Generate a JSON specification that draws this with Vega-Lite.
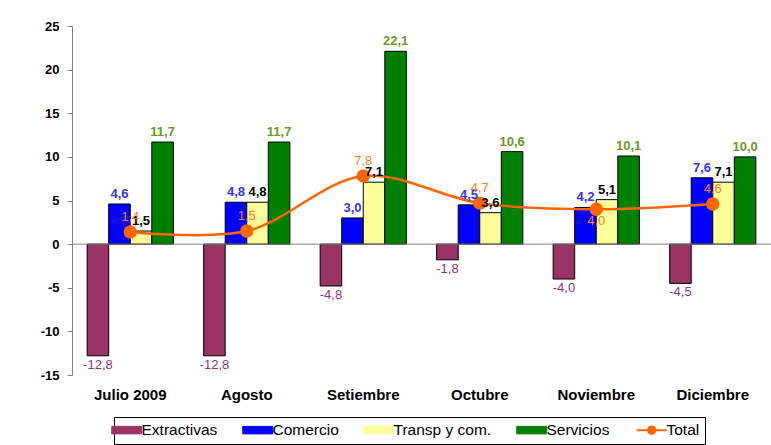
{
  "$schema": "https://vega.github.io/schema/vega-lite/v6.json",
  "width": 699,
  "height": 349,
  "autosize": {"type": "none"},
  "padding": {"left": 72, "top": 26, "right": 0, "bottom": 70},
  "background": "white",
  "resolve": {"axis": {"x": "independent"}},
  "config": {
    "view": {"stroke": null},
    "font": "Liberation Sans",
    "locale": {"number": {"decimal": ",", "thousands": ".", "grouping": [3], "currency": ["", ""], "minus": "-"}},
    "axisY": {"domainColor": "#808080", "tickColor": "#808080", "tickSize": 5, "labelFontWeight": "bold", "labelFontSize": 13, "labelColor": "#000000", "labelPadding": 8, "grid": false, "values": [-15, -10, -5, 0, 5, 10, 15, 20, 25]},
    "legend": {
      "orient": "none", "legendX": 42, "legendY": 391, "direction": "horizontal", "columns": 5,
      "labelFontSize": 15.5, "labelColor": "#000000", "labelFont": "Liberation Sans", "labelOffset": 7,
      "columnPadding": 22, "padding": 5, "strokeColor": "#000000", "fillColor": "#FFFFFF",
      "symbolSize": 900, "symbolType": "M-1,-0.25H1V0.25H-1Z", "symbolStrokeColor": "#000000", "symbolStrokeWidth": 1, "symbolOpacity": 1
    }
  },
  "datasets": {
    "barras": [
      {"mes": "Julio 2009", "serie": "Extractivas", "valor": -12.8},
      {"mes": "Julio 2009", "serie": "Comercio", "valor": 4.6},
      {"mes": "Julio 2009", "serie": "Transp y com.", "valor": 1.5},
      {"mes": "Julio 2009", "serie": "Servicios", "valor": 11.7},
      {"mes": "Agosto", "serie": "Extractivas", "valor": -12.8},
      {"mes": "Agosto", "serie": "Comercio", "valor": 4.8},
      {"mes": "Agosto", "serie": "Transp y com.", "valor": 4.8},
      {"mes": "Agosto", "serie": "Servicios", "valor": 11.7},
      {"mes": "Setiembre", "serie": "Extractivas", "valor": -4.8},
      {"mes": "Setiembre", "serie": "Comercio", "valor": 3.0},
      {"mes": "Setiembre", "serie": "Transp y com.", "valor": 7.1},
      {"mes": "Setiembre", "serie": "Servicios", "valor": 22.1},
      {"mes": "Octubre", "serie": "Extractivas", "valor": -1.8},
      {"mes": "Octubre", "serie": "Comercio", "valor": 4.5},
      {"mes": "Octubre", "serie": "Transp y com.", "valor": 3.6},
      {"mes": "Octubre", "serie": "Servicios", "valor": 10.6},
      {"mes": "Noviembre", "serie": "Extractivas", "valor": -4.0},
      {"mes": "Noviembre", "serie": "Comercio", "valor": 4.2},
      {"mes": "Noviembre", "serie": "Transp y com.", "valor": 5.1},
      {"mes": "Noviembre", "serie": "Servicios", "valor": 10.1},
      {"mes": "Diciembre", "serie": "Extractivas", "valor": -4.5},
      {"mes": "Diciembre", "serie": "Comercio", "valor": 7.6},
      {"mes": "Diciembre", "serie": "Transp y com.", "valor": 7.1},
      {"mes": "Diciembre", "serie": "Servicios", "valor": 10.0}
    ],
    "total": [
      {"mes": "Julio 2009", "serie": "Total", "valor": 1.4},
      {"mes": "Agosto", "serie": "Total", "valor": 1.5},
      {"mes": "Setiembre", "serie": "Total", "valor": 7.8},
      {"mes": "Octubre", "serie": "Total", "valor": 4.7},
      {"mes": "Noviembre", "serie": "Total", "valor": 4.0},
      {"mes": "Diciembre", "serie": "Total", "valor": 4.6}
    ]
  },
  "layer": [
    {
      "data": {"name": "barras"},
      "mark": {"type": "bar", "stroke": "#000000", "strokeWidth": 1},
      "encoding": {
        "x": {"field": "mes", "type": "nominal", "sort": ["Julio 2009", "Agosto", "Setiembre", "Octubre", "Noviembre", "Diciembre"], "scale": {"paddingInner": 0.26, "paddingOuter": 0.13}, "title": null,
              "axis": {"domain": false, "ticks": false, "labelFontWeight": "bold", "labelFontSize": 15, "labelColor": "#000000", "labelPadding": 12, "labelAngle": 0, "grid": false}},
        "xOffset": {"field": "serie", "type": "nominal", "sort": ["Extractivas", "Comercio", "Transp y com.", "Servicios"], "scale": {"paddingInner": 0, "paddingOuter": 0}},
        "y": {"field": "valor", "type": "quantitative", "scale": {"domain": [-15, 25], "nice": false, "zero": false}, "title": null},
        "color": {
          "field": "serie", "type": "nominal",
          "scale": {"domain": ["Extractivas", "Comercio", "Transp y com.", "Servicios", "Total"], "range": ["#993366", "#0000FF", "#FFFF99", "#008000", "#FF6600"]},
          "legend": {
            "title": null,
            "encode": {
              "symbols": {
                "update": {
                  "shape": {"signal": "datum.value === 'Total' ? 'M-1,0H1M0.25,0A0.25,0.25 0 1 1 -0.25,0A0.25,0.25 0 1 1 0.25,0Z' : 'M-1,-0.25H1V0.25H-1Z'"},
                  "fill": {"scale": "color", "field": "value"},
                  "stroke": {"signal": "datum.value === 'Total' ? '#FF6600' : '#000000'"},
                  "strokeWidth": {"signal": "datum.value === 'Total' ? 2 : 1"},
                  "size": {"value": 900},
                  "opacity": {"value": 1}
                }
              }
            }
          }
        }
      }
    },
    {
      "data": {"values": [{"v": 0}]},
      "mark": {"type": "rule", "color": "#808080", "strokeWidth": 1},
      "encoding": {"y": {"field": "v", "type": "quantitative", "scale": {"domain": [-15, 25], "nice": false, "zero": false}, "title": null}}
    },
    {
      "data": {"name": "total"},
      "mark": {"type": "line", "interpolate": "catmull-rom", "strokeWidth": 2.5},
      "encoding": {
        "x": {"field": "mes", "type": "nominal", "sort": ["Julio 2009", "Agosto", "Setiembre", "Octubre", "Noviembre", "Diciembre"], "title": null,
              "axis": {"orient": "bottom", "offset": -131, "bandPosition": 0, "labels": false, "domain": false, "ticks": true, "tickSize": 4, "tickColor": "#808080", "grid": false}},
        "y": {"field": "valor", "type": "quantitative", "scale": {"domain": [-15, 25], "nice": false, "zero": false}, "title": null},
        "color": {"field": "serie", "type": "nominal", "legend": {
            "title": null,
            "encode": {
              "symbols": {
                "update": {
                  "shape": {"signal": "datum.value === 'Total' ? 'M-1,0H1M0.25,0A0.25,0.25 0 1 1 -0.25,0A0.25,0.25 0 1 1 0.25,0Z' : 'M-1,-0.25H1V0.25H-1Z'"},
                  "fill": {"scale": "color", "field": "value"},
                  "stroke": {"signal": "datum.value === 'Total' ? '#FF6600' : '#000000'"},
                  "strokeWidth": {"signal": "datum.value === 'Total' ? 2 : 1"},
                  "size": {"value": 900},
                  "opacity": {"value": 1}
                }
              }
            }
          }}
      }
    },
    {
      "data": {"name": "total"},
      "mark": {"type": "point", "filled": true, "size": 180, "opacity": 1},
      "encoding": {
        "x": {"field": "mes", "type": "nominal", "sort": ["Julio 2009", "Agosto", "Setiembre", "Octubre", "Noviembre", "Diciembre"], "title": null, "axis": null},
        "y": {"field": "valor", "type": "quantitative", "scale": {"domain": [-15, 25], "nice": false, "zero": false}, "title": null},
        "color": {"field": "serie", "type": "nominal", "legend": {
            "title": null,
            "encode": {
              "symbols": {
                "update": {
                  "shape": {"signal": "datum.value === 'Total' ? 'M-1,0H1M0.25,0A0.25,0.25 0 1 1 -0.25,0A0.25,0.25 0 1 1 0.25,0Z' : 'M-1,-0.25H1V0.25H-1Z'"},
                  "fill": {"scale": "color", "field": "value"},
                  "stroke": {"signal": "datum.value === 'Total' ? '#FF6600' : '#000000'"},
                  "strokeWidth": {"signal": "datum.value === 'Total' ? 2 : 1"},
                  "size": {"value": 900},
                  "opacity": {"value": 1}
                }
              }
            }
          }}
      }
    },
    {
      "data": {"name": "barras"},
      "transform": [{"filter": "datum.valor >= 0"}],
      "mark": {"type": "text", "baseline": "bottom", "dy": -3, "fontWeight": "bold", "fontSize": 13},
      "encoding": {
        "x": {"field": "mes", "type": "nominal", "sort": ["Julio 2009", "Agosto", "Setiembre", "Octubre", "Noviembre", "Diciembre"], "title": null, "axis": null},
        "xOffset": {"field": "serie", "type": "nominal", "sort": ["Extractivas", "Comercio", "Transp y com.", "Servicios"]},
        "y": {"field": "valor", "type": "quantitative", "scale": {"domain": [-15, 25], "nice": false, "zero": false}, "title": null},
        "text": {"field": "valor", "type": "quantitative", "format": ".1f"},
        "color": {"condition": [{"test": "datum.serie === 'Comercio'", "value": "#3333FF"}, {"test": "datum.serie === 'Servicios'", "value": "#6B9A1F"}], "value": "#000000"}
      }
    },
    {
      "data": {"name": "barras"},
      "transform": [{"filter": "datum.valor < 0"}],
      "mark": {"type": "text", "baseline": "top", "dy": 3, "fontSize": 13, "color": "#993377"},
      "encoding": {
        "x": {"field": "mes", "type": "nominal", "sort": ["Julio 2009", "Agosto", "Setiembre", "Octubre", "Noviembre", "Diciembre"], "title": null, "axis": null},
        "xOffset": {"field": "serie", "type": "nominal", "sort": ["Extractivas", "Comercio", "Transp y com.", "Servicios"]},
        "y": {"field": "valor", "type": "quantitative", "scale": {"domain": [-15, 25], "nice": false, "zero": false}, "title": null},
        "text": {"field": "valor", "type": "quantitative", "format": ".1f"}
      }
    },
    {
      "data": {"name": "total"},
      "transform": [{"filter": "datum.mes !== 'Noviembre'"}],
      "mark": {"type": "text", "baseline": "bottom", "dy": -8, "fontSize": 13, "color": "#FF7A22"},
      "encoding": {
        "x": {"field": "mes", "type": "nominal", "sort": ["Julio 2009", "Agosto", "Setiembre", "Octubre", "Noviembre", "Diciembre"], "title": null, "axis": null},
        "y": {"field": "valor", "type": "quantitative", "scale": {"domain": [-15, 25], "nice": false, "zero": false}, "title": null},
        "text": {"field": "valor", "type": "quantitative", "format": ".1f"}
      }
    },
    {
      "data": {"name": "total"},
      "transform": [{"filter": "datum.mes === 'Noviembre'"}],
      "mark": {"type": "text", "baseline": "top", "dy": 6, "fontSize": 13, "color": "#FF7A22"},
      "encoding": {
        "x": {"field": "mes", "type": "nominal", "sort": ["Julio 2009", "Agosto", "Setiembre", "Octubre", "Noviembre", "Diciembre"], "title": null, "axis": null},
        "y": {"field": "valor", "type": "quantitative", "scale": {"domain": [-15, 25], "nice": false, "zero": false}, "title": null},
        "text": {"field": "valor", "type": "quantitative", "format": ".1f"}
      }
    }
  ]
}
